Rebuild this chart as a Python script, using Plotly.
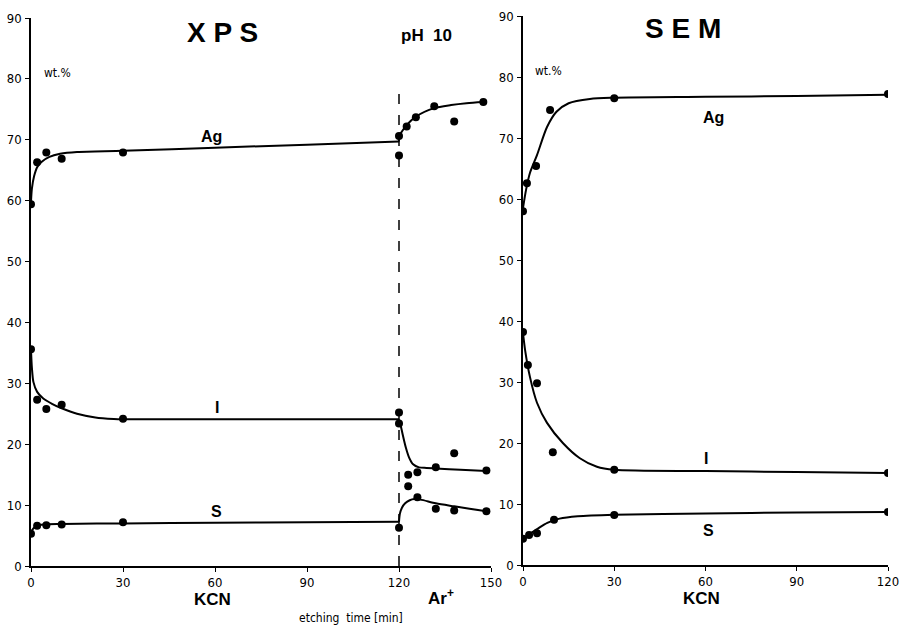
import plotly.graph_objects as go

W, H = 903, 627

# ---------------- XPS panel (measured points) ----------------
xps_ag_x = [0, 2, 5, 10, 30, 120, 120, 122.5, 125.5, 131.5, 138, 147.5]
xps_ag_y = [59.4, 66.3, 67.9, 66.9, 67.9, 70.6, 67.4, 72.2, 73.7, 75.5, 73.0, 76.2]
xps_i_x = [0, 2, 5, 10, 30, 120, 120, 123, 123, 126, 132, 138, 148.5]
xps_i_y = [35.6, 27.3, 25.8, 26.5, 24.2, 25.2, 23.4, 15.0, 13.1, 15.4, 16.2, 18.5, 15.7]
xps_s_x = [0, 2, 5, 10, 30, 120, 126, 132, 138, 148.5]
xps_s_y = [5.3, 6.6, 6.7, 6.8, 7.2, 6.3, 11.3, 9.4, 9.1, 9.0]

# XPS fitted curves (knots)
xps_ag_c1_x = [0, 0.3, 1, 2, 3.5, 6, 9.5, 15, 30, 60, 90, 120]
xps_ag_c1_y = [59.8, 62.0, 64.0, 65.5, 66.4, 67.2, 67.7, 68.0, 68.2, 68.7, 69.2, 69.7]
xps_ag_c2_x = [120, 120, 121, 122.5, 125.5, 131.5, 137, 142, 147.5]
xps_ag_c2_y = [69.7, 70.6, 71.4, 72.4, 73.8, 75.2, 75.7, 76.0, 76.2]
xps_i_c1_x = [0, 0.3, 0.8, 2, 4, 7, 10, 15, 21, 27, 30, 120]
xps_i_c1_y = [35.5, 32.5, 30.2, 28.6, 27.5, 26.6, 25.9, 25.0, 24.4, 24.15, 24.1, 24.1]
xps_i_c2_x = [120, 120.5, 121.2, 122.2, 123.3, 124.6, 126.5, 129, 132, 140, 148.5]
xps_i_c2_y = [24.1, 23.2, 21.6, 19.5, 17.8, 16.7, 16.2, 16.1, 16.0, 15.8, 15.6]
xps_s_c1_x = [0, 0.4, 1.2, 2.5, 5, 10, 30, 60, 90, 120]
xps_s_c1_y = [5.3, 5.9, 6.4, 6.7, 6.85, 6.9, 7.0, 7.1, 7.2, 7.25]
xps_s_c2_x = [120, 120.3, 121, 122, 123.5, 125, 127, 132, 138, 143, 148.5]
xps_s_c2_y = [7.25, 8.6, 9.6, 10.3, 10.8, 11.0, 10.9, 10.3, 9.8, 9.4, 9.0]

# ---------------- SEM panel (measured points) ----------------
sem_ag_x = [0, 1.3, 4.3, 8.9, 30, 120]
sem_ag_y = [58.0, 62.6, 65.4, 74.6, 76.5, 77.2]
sem_i_x = [0, 1.6, 4.6, 9.8, 30, 120]
sem_i_y = [38.2, 32.8, 29.8, 18.5, 15.6, 15.1]
sem_s_x = [0, 2, 4.6, 10.2, 30, 120]
sem_s_y = [4.3, 4.9, 5.2, 7.4, 8.2, 8.7]

sem_ag_c_x = [0, 1, 2.3, 4.6, 7.9, 11, 15, 22, 30, 60, 90, 120]
sem_ag_c_y = [58.5, 61.5, 64.3, 67.2, 71.8, 74.3, 75.7, 76.4, 76.6, 76.75, 76.9, 77.1]
sem_i_c_x = [0, 0.7, 2.3, 4.6, 7.9, 13.1, 18.7, 24.3, 30, 60, 90, 120]
sem_i_c_y = [38.0, 35.2, 30.8, 26.6, 23.3, 20.0, 17.5, 16.1, 15.6, 15.4, 15.25, 15.1]
sem_s_c_x = [0, 1, 2.5, 5, 8, 12, 18, 30, 60, 90, 120]
sem_s_c_y = [4.3, 4.6, 5.2, 6.0, 6.9, 7.6, 8.0, 8.25, 8.45, 8.6, 8.7]

y_ticks = [0, 10, 20, 30, 40, 50, 60, 70, 80, 90]
xps_x_ticks = [0, 30, 60, 90, 120, 150]
sem_x_ticks = [0, 30, 60, 90, 120]

TICKFONT = dict(family="DejaVu Sans Condensed, Liberation Sans Narrow, Arial Narrow, sans-serif",
                size=13, color="black")
BOLD = "Liberation Sans, Arial, Helvetica, sans-serif"

fig = go.Figure()

def curve(x, y, xa, ya):
    fig.add_trace(go.Scatter(x=x, y=y, mode="lines", xaxis=xa, yaxis=ya,
                             line=dict(color="black", width=2, shape="spline", smoothing=0.8),
                             hoverinfo="skip", showlegend=False))

def pts(x, y, xa, ya):
    fig.add_trace(go.Scatter(x=x, y=y, mode="markers", xaxis=xa, yaxis=ya,
                             marker=dict(color="black", size=8),
                             showlegend=False))

# XPS curves
curve(xps_ag_c1_x, xps_ag_c1_y, "x", "y")
curve(xps_ag_c2_x, xps_ag_c2_y, "x", "y")
curve(xps_i_c1_x, xps_i_c1_y, "x", "y")
curve(xps_i_c2_x, xps_i_c2_y, "x", "y")
curve(xps_s_c1_x, xps_s_c1_y, "x", "y")
curve(xps_s_c2_x, xps_s_c2_y, "x", "y")
pts(xps_ag_x, xps_ag_y, "x", "y")
pts(xps_i_x, xps_i_y, "x", "y")
pts(xps_s_x, xps_s_y, "x", "y")

# SEM curves
curve(sem_ag_c_x, sem_ag_c_y, "x2", "y2")
curve(sem_i_c_x, sem_i_c_y, "x2", "y2")
curve(sem_s_c_x, sem_s_c_y, "x2", "y2")
pts(sem_ag_x, sem_ag_y, "x2", "y2")
pts(sem_i_x, sem_i_y, "x2", "y2")
pts(sem_s_x, sem_s_y, "x2", "y2")

axis_common = dict(showgrid=False, zeroline=False, showline=True, linecolor="black",
                   linewidth=1.5, ticks="outside", ticklen=4, tickwidth=1.2,
                   tickcolor="black", tickfont=TICKFONT, automargin=False)

fig.update_layout(
    width=W, height=H,
    margin=dict(l=0, r=0, t=0, b=0),
    paper_bgcolor="white", plot_bgcolor="rgba(0,0,0,0)",
    showlegend=False,
    xaxis=dict(domain=[31 / W, 491 / W], range=[0, 150], tickvals=xps_x_ticks,
               anchor="y", ticklabelstandoff=0, **axis_common),
    yaxis=dict(domain=[61 / H, 609 / H], range=[0, 90], tickvals=y_ticks,
               anchor="x", ticklabelstandoff=1, **axis_common),
    xaxis2=dict(domain=[523 / W, 888 / W], range=[0, 120], tickvals=sem_x_ticks,
                anchor="y2", ticklabelstandoff=0, **axis_common),
    yaxis2=dict(domain=[62 / H, 611 / H], range=[0, 90], tickvals=y_ticks,
                anchor="x2", ticklabelstandoff=1, **axis_common),
)

# dashed separator at 120 min (pH 10 / Ar+ start)
fig.add_shape(type="line", xref="x", yref="y", x0=120, x1=120, y0=0, y1=78.5,
              line=dict(color="black", width=1.5, dash="10px,11px"))

def ann(text, x, y, size, xref="paper", yref="paper", bold=True, family=BOLD, xanchor="center"):
    fig.add_annotation(text=f"<b>{text}</b>" if bold else text, x=x, y=y, xref=xref, yref=yref,
                       showarrow=False, xanchor=xanchor, yanchor="middle",
                       font=dict(family=family, size=size, color="black"))

ann("X P S", 222 / W, 1 - 33 / H, 28)
ann("pH  10", 426 / W, 1 - 35 / H, 17)
ann("S E M", 683 / W, 1 - 29 / H, 28)
ann("KCN", 212 / W, 1 - 599 / H, 17)
ann("Ar<sup>+</sup>", 441 / W, 1 - 597 / H, 17)
ann("KCN", 701 / W, 1 - 598 / H, 17)
ann("etching  time [min]", 351 / W, 1 - 618 / H, 12, bold=False, family=TICKFONT["family"])

# panel labels
ann("wt.%", 3.6, 81.0, 12, xref="x", yref="y", bold=False, family=TICKFONT["family"], xanchor="left")
ann("Ag", 59, 70.6, 16, xref="x", yref="y")
ann("I", 60.6, 26.1, 16, xref="x", yref="y")
ann("S", 60.6, 9.0, 16, xref="x", yref="y")
ann("wt.%", 3.3, 81.0, 12, xref="x2", yref="y2", bold=False, family=TICKFONT["family"], xanchor="left")
ann("Ag", 62.5, 73.4, 16, xref="x2", yref="y2")
ann("I", 60.2, 17.5, 16, xref="x2", yref="y2")
ann("S", 60.9, 5.6, 16, xref="x2", yref="y2")

fig.write_html("out.html")
